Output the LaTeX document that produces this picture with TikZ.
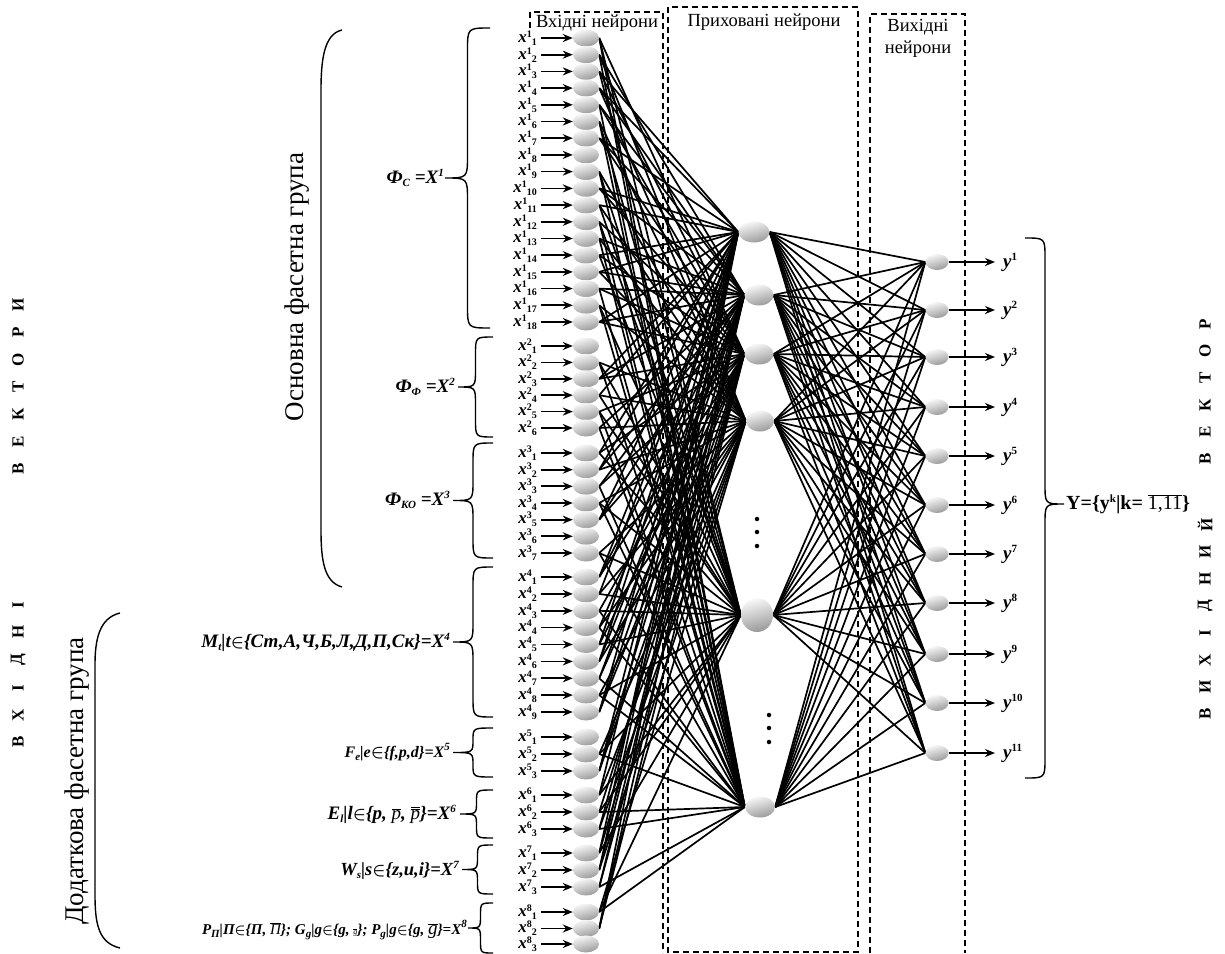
\documentclass[tikz,border=0pt]{standalone}
\usepackage{fontspec}
\setmainfont{Liberation Serif}
\usetikzlibrary{shapes.geometric,arrows.meta,backgrounds}
\newcommand{\xlab}[2]{{\fontsize{17}{17}\selectfont\bfseries\itshape x}\raisebox{5pt}{\fontsize{10}{10}\selectfont\bfseries #1}\raisebox{-3pt}{\fontsize{10}{10}\selectfont\bfseries #2}}
\newcommand{\ylab}[1]{{\fontsize{19}{19}\selectfont\bfseries\itshape y}\raisebox{7pt}{\fontsize{11}{11}\selectfont\bfseries #1}}
\newcommand{\lsub}[1]{\raisebox{-3pt}{\fontsize{11}{11}\selectfont #1}}
\newcommand{\lsup}[1]{\raisebox{7pt}{\fontsize{11}{11}\selectfont #1}}
\newcommand{\grpbr}[4]{%
  \pgfmathsetmacro{\ym}{(#2+#3)/2}%
  \pgfmathsetmacro{\xa}{#1-#4/2}%
  \pgfmathsetmacro{\xt}{#1-#4}%
  \pgfmathsetmacro{\rr}{min(#4/2,(#3-#2)/4)}%
  \draw[brc] (#1,#2) .. controls (\xa,#2) .. (\xa,#2+\rr) -- (\xa,\ym-\rr) .. controls (\xa,\ym) .. (\xt,\ym) .. controls (\xa,\ym) .. (\xa,\ym+\rr) -- (\xa,#3-\rr) .. controls (\xa,#3) .. (#1,#3);}
\begin{document}
\begin{tikzpicture}[x=1pt,y=-1pt,
  shd/.style={top color=gray!5,middle color=gray!28,bottom color=gray!80,shading angle=15},
  neu/.style={ellipse,inner sep=0pt,minimum width=26pt,minimum height=17pt,shd},
  hid/.style={ellipse,inner sep=0pt,minimum width=30pt,minimum height=21pt,shd},
  outn/.style={ellipse,inner sep=0pt,minimum width=23pt,minimum height=16pt,shd},
  cn/.style={line width=1.7pt,black},
  arr/.style={line width=1.7pt,-{Stealth[length=10pt,width=8pt]}},
  dbox/.style={line width=1.5pt,dash pattern=on 6pt off 4pt},
  brc/.style={line width=1.4pt},
  ttl/.style={font=\fontsize{18.5}{22}\selectfont,inner sep=0pt},
  lab/.style={font=\fontsize{19}{19}\selectfont\bfseries\itshape,inner sep=0pt,anchor=east},
  vl/.style={font=\fontsize{17}{17}\selectfont\bfseries,rotate=90,inner sep=0pt},
  big/.style={font=\fontsize{27}{27}\selectfont,rotate=90,inner sep=0pt},
  dot/.style={circle,fill=black,inner sep=0pt,minimum size=4.5pt}]
\useasboundingbox (0,0) rectangle (1225,953);

% input neurons
\foreach \y/\s/\b [count=\i] in {38/1/1,54.7/1/2,71.4/1/3,88.1/1/4,104.8/1/5,121.5/1/6,138.2/1/7,154.9/1/8,171.6/1/9,188.4/1/10,205.1/1/11,221.8/1/12,238.5/1/13,255.2/1/14,271.9/1/15,288.6/1/16,305.3/1/17,322/1/18,
  346/2/1,362.4/2/2,378.8/2/3,395.2/2/4,411.6/2/5,428/2/6,
  453/3/1,469.7/3/2,486.3/3/3,503/3/4,519.7/3/5,536.3/3/6,553/3/7,
  577/4/1,593.9/4/2,610.8/4/3,627.6/4/4,644.5/4/5,661.4/4/6,678.3/4/7,695.1/4/8,712/4/9,
  737/5/1,754/5/2,771/5/3,795/6/1,812/6/2,829/6/3,853/7/1,870/7/2,887/7/3,912/8/1,928.5/8/2,944/8/3}{
  \node[neu] (i\i) at (586,\y) {};
  \node[inner sep=0pt,anchor=east] (l\i) at (537,\y) {\xlab{\s}{\b}};
  \coordinate (a\i) at (541,\y);
  \draw[arr] (a\i) -- (i\i);
}

% hidden neurons
\node[hid,minimum width=31pt] (h1) at (754,232) {};
\node[hid,minimum width=29pt] (h2) at (759,295) {};
\node[hid,minimum width=29pt] (h3) at (759,354) {};
\node[hid,minimum width=28pt] (h4) at (760,421) {};
\node[hid,minimum width=32pt,minimum height=34pt] (h5) at (757,615) {};
\node[hid] (h6) at (760,807) {};
\foreach \yy [count=\c] in {519,532,546} \node[dot] (da\c) at (757,\yy) {};
\foreach \yy [count=\c] in {715,728,742} \node[dot] (db\c) at (769,\yy) {};

% output neurons
\foreach \y [count=\k] in {262,310,357,407,456,505,554,603,654,703,753}{
  \node[outn] (o\k) at (937,\y) {};
  \coordinate (e\k) at (995,\y);
  \draw[arr] (o\k.east) -- (e\k);
  \node[inner sep=0pt,anchor=west] (yl\k) at (1003,\y) {\ylab{\k}};
}

\begin{scope}[on background layer]
\foreach \i in {1,...,52}{\foreach \j in {1,...,6}{
  \pgfmathtruncatemacro{\r}{mod(\i*(\j+2)+3*\j,11)}
  \ifnum\r<5 \draw[cn] (i\i.east) -- (h\j.west);\fi}}
\foreach \j in {1,...,6}{\foreach \k in {1,...,11}{\draw[cn] (h\j.east) -- (o\k.west);}}
% dashed boxes
\draw[dbox] (530,28) -- (530,12) -- (663,12) -- (663,953);
\draw[dbox] (668,953) -- (668,7) -- (858,7) -- (858,952) -- (668,952);
\draw[dbox] (870,953) -- (870,14) -- (965,14) -- (965,953);
\end{scope}

\node[ttl] (t1) at (597,23) {Вхідні нейрони};
\node[ttl] (t2) at (764,22) {Приховані нейрони};
\node[ttl,align=center] (t3) at (918,38) {Вихідні\\нейрони};

% group braces
\grpbr{490}{28}{328}{45}
\grpbr{493}{337}{437}{35}
\grpbr{493}{443}{558}{40}
\grpbr{493}{567}{717}{40}
\grpbr{493}{728}{777}{40}
\grpbr{493}{790}{838}{33}
\grpbr{493}{845}{894}{31}
\grpbr{493}{903}{953}{25}

\node[lab] (g1) at (444,178) {Ф\lsub{C} =X\lsup{1}};
\node[lab] (g2) at (455,387) {Ф\lsub{Ф} =X\lsup{2}};
\node[lab] (g3) at (450,500) {Ф\lsub{КО} =X\lsup{3}};
\node[lab] (g4) at (450,642) {M\lsub{t}|t{\boldmath$\in$}\{Ст,А,Ч,Б,Л,Д,П,Ск\}=X\lsup{4}};
\node[lab,font=\fontsize{16}{16}\selectfont\bfseries\itshape] (g5) at (450,752) {F\lsub{e}|e{\boldmath$\in$}\{f,p,d\}=X\lsup{5}};
\node[lab] (g6) at (456,814) {E\lsub{l}|l{\boldmath$\in$}\{p, {\mdseries$\overline{\mbox{\itshape p}}$}, {\mdseries$\overline{\overline{\mbox{\itshape p}}}$}\}=X\lsup{6}};
\node[lab,font=\fontsize{18.5}{18.5}\selectfont\bfseries\itshape] (g7) at (459,870) {W\lsub{s}|s{\boldmath$\in$}\{z,u,i\}=X\lsup{7}};
\node[lab,font=\fontsize{15}{15}\selectfont\bfseries\itshape] (g8) at (467,930) {P\lsub{П}|П{\boldmath$\in$}\{П, {\mdseries$\overline{\mbox{\itshape П}}$}\}; G\lsub{g}|g{\boldmath$\in$}\{g, {\mdseries$\overline{\mbox{\itshape\footnotesize g}}$}\}; P\lsub{g}|g{\boldmath$\in$}\{g, {\mdseries\fontsize{19}{19}\selectfont$\overline{\mbox{\itshape g}}$}\}=X\lsup{8}};

% big brackets
\draw[brc] (342,30) .. controls (324,34) and (321,60) .. (321,90) -- (321,530) .. controls (321,560) and (324,582) .. (342,587);
\draw[brc] (120,613) .. controls (99,618) and (95,640) .. (95,665) -- (95,895) .. controls (95,925) and (99,943) .. (120,948);
\node[big] (bg1) at (297,287) {Основна фасетна група};
\node[big] (bg2) at (77,781) {Додаткова фасетна група};

% output brace
\draw[brc] (1025,238) .. controls (1045,238) .. (1045,258) -- (1045,484) .. controls (1045,504) .. (1064,504) .. controls (1045,504) .. (1045,524) -- (1045,758) .. controls (1045,778) .. (1025,778);
\node[inner sep=0pt,anchor=west,font=\fontsize{20}{20}\selectfont\bfseries] (Y) at (1066,504) {Y=\{y\lsup{k}|k= {\mdseries$\overline{\mbox{1,11}}$}\}};

% vertical letters
\foreach \t/\yy [count=\c] in {И/305,Р/332,О/360,Т/387,К/414,Е/442,В/469,І/605,Н/632,Д/660,І/688,Х/715,В/742}
  \node[vl] (lv\c) at (18,\yy) {\t};
\foreach \t/\yy [count=\c] in {Р/324,О/351,Т/378,К/405,Е/432,В/459,Й/525,И/552,Н/579,Д/606,І/633,Х/660,И/687,В/714}
  \node[vl] (rv\c) at (1205,\yy) {\t};
\end{tikzpicture}
\end{document}
